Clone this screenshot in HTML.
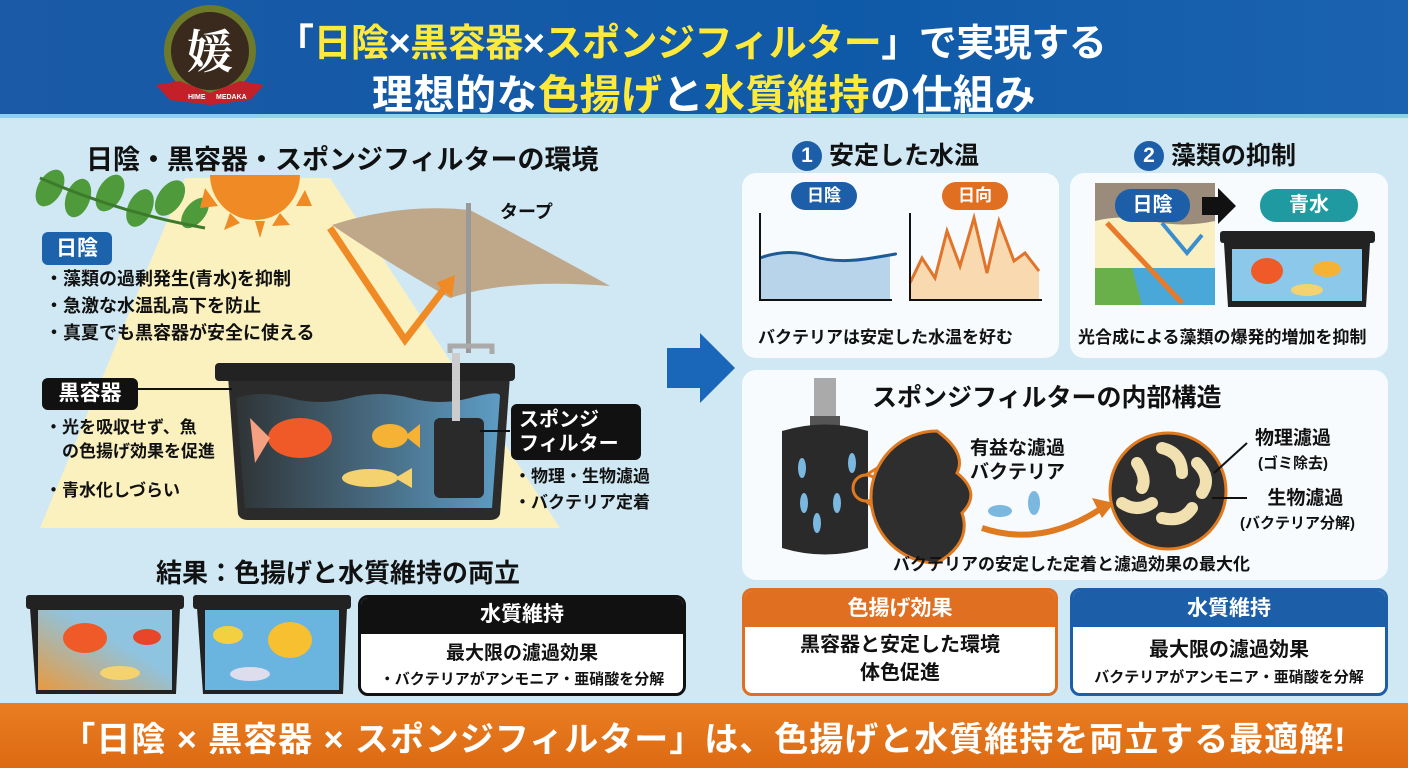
<!DOCTYPE html>
<html><head><meta charset="utf-8"><style>
*{margin:0;padding:0;box-sizing:border-box}
body{width:1408px;height:768px;overflow:hidden;position:relative;background:#cfe8f4;font-family:"Liberation Sans","Noto Sans CJK JP",sans-serif;font-weight:bold;color:#111}
.a{position:absolute;white-space:nowrap}
.card{position:absolute;background:#f7fbfd;border-radius:14px}
.y{color:#ffe93a}
</style></head><body>
<!-- header -->
<div class="a" style="left:0;top:0;width:1408px;height:118px;background:linear-gradient(90deg,#1a5aa6,#0f5aa8 60%,#1b63b0);border-bottom:4px solid #8fd0ee"></div>
<svg class="a" style="left:150px;top:3px" width="125" height="110">
<circle cx="60" cy="48" r="46" fill="#6d7a2a"/><circle cx="60" cy="48" r="39" fill="#3a2a1e"/>
<path d="M6 82 L30 78 L60 90 L90 78 L114 82 L100 97 L60 102 L20 97Z" fill="#c4202a"/>
<text x="60" y="65" fill="#fff" font-size="46" text-anchor="middle" font-family="Noto Serif CJK SC,serif">媛</text>
<text x="38" y="96" fill="#fff" font-size="7">HIME</text><text x="66" y="96" fill="#fff" font-size="7">MEDAKA</text>
</svg>
<div class="a" style="left:276px;top:12px;font-size:38px;color:#fff;letter-spacing:-0.5px">「<span class="y">日陰</span>×<span class="y">黒容器</span>×<span class="y">スポンジフィルター</span>」で実現する</div>
<div class="a" style="left:372px;top:61px;font-size:41px;color:#fff;letter-spacing:0.5px">理想的な<span class="y">色揚げ</span>と<span class="y">水質維持</span>の仕組み</div>

<!-- left graphics -->
<svg class="a" style="left:0;top:118px" width="704" height="585">
<polygon points="185,60 330,60 560,410 40,410" fill="#fbf1bf"/>
<g fill="#4f9a3a"><ellipse cx="50" cy="70" rx="12" ry="20" transform="rotate(30 50 70)"/><ellipse cx="78" cy="80" rx="12" ry="20" transform="rotate(20 78 80)"/><ellipse cx="110" cy="75" rx="12" ry="20" transform="rotate(30 110 75)"/><ellipse cx="140" cy="90" rx="12" ry="20" transform="rotate(25 140 90)"/><ellipse cx="170" cy="80" rx="12" ry="20" transform="rotate(35 170 80)"/><ellipse cx="195" cy="95" rx="10" ry="18" transform="rotate(40 195 95)"/></g>
<path d="M40 60 Q120 95 205 110" stroke="#3c7a2c" stroke-width="3" fill="none"/>
<path d="M210 57 A45 45 0 0 0 300 57Z" fill="#f08a24"/>
<g fill="#f08a24"><polygon points="205,70 218,88 200,90"/><polygon points="230,95 240,105 224,112"/><polygon points="255,103 265,103 260,120"/><polygon points="280,95 290,107 272,108"/><polygon points="305,72 312,88 296,88"/></g>
<path d="M332 107 Q400 85 470 92 Q560 140 610 168 Q510 160 450 180 Q380 140 332 107Z" fill="#bfa78a"/>
<rect x="466" y="85" width="5" height="150" fill="#999"/>
<path d="M450 235 V228 H492 V236" stroke="#aaa" stroke-width="5" fill="none"/>
<polyline points="330,110 405,222 445,170" stroke="#f08a24" stroke-width="7" fill="none"/>
<polygon points="436,165 455,157 452,180" fill="#f08a24"/>
<path d="M228 258 H510 L500 396 Q498 402 490 402 H248 Q240 402 238 396Z" fill="#2b2b2b"/>
<defs><linearGradient id="wg" x1="0" x2="1"><stop offset="0" stop-color="#2f3436"/><stop offset="1" stop-color="#5d9cc4"/></linearGradient>
<linearGradient id="og" x1="0" x2="1" y1="1" y2="0"><stop offset="0" stop-color="#e89a40"/><stop offset="0.6" stop-color="#8ec4e0"/></linearGradient></defs>
<path d="M236 280 Q260 272 290 280 T350 280 T410 280 T470 280 T500 278 L492 390 H245Z" fill="url(#wg)"/>
<rect x="215" y="245" width="300" height="18" rx="4" fill="#222"/>
<rect x="434" y="300" width="50" height="80" rx="6" fill="#2a2a2a"/>
<rect x="452" y="235" width="8" height="68" fill="#ccc"/>
<ellipse cx="300" cy="320" rx="32" ry="20" fill="#f05a28"/><polygon points="270,320 250,300 255,345" fill="#f5a080"/>
<ellipse cx="390" cy="318" rx="18" ry="12" fill="#f6b234"/><polygon points="405,318 420,306 420,330" fill="#f6b234"/>
<ellipse cx="370" cy="360" rx="28" ry="9" fill="#f5d270"/><polygon points="395,360 412,350 412,370" fill="#f5d270"/>
<line x1="138" y1="271" x2="232" y2="271" stroke="#111" stroke-width="2"/>
<line x1="480" y1="313" x2="510" y2="313" stroke="#111" stroke-width="2"/>
<rect x="26" y="477" width="158" height="14" rx="3" fill="#222"/>
<path d="M30 490 H180 L176 576 H36Z" fill="#222"/><rect x="38" y="492" width="134" height="80" fill="url(#og)"/>
<ellipse cx="85" cy="520" rx="22" ry="15" fill="#f05a28"/><ellipse cx="147" cy="519" rx="14" ry="8" fill="#e8462a"/><ellipse cx="120" cy="555" rx="20" ry="7" fill="#f5d270"/>
<rect x="193" y="477" width="158" height="14" rx="3" fill="#222"/>
<path d="M197 490 H347 L343 576 H203Z" fill="#222"/><rect x="205" y="492" width="134" height="80" fill="#6ab4e0"/>
<ellipse cx="228" cy="517" rx="15" ry="9" fill="#f3d040"/><ellipse cx="290" cy="522" rx="22" ry="18" fill="#f6c030"/><ellipse cx="250" cy="556" rx="20" ry="7" fill="#dde"/>
</svg>
<svg class="a" style="left:660px;top:330px" width="80" height="75"><polygon points="7,18 40,18 40,3 75,38 40,73 40,58 7,58" fill="#1a66b8"/></svg>
<div class="a" style="left:86px;top:138px;font-size:27px">日陰・黒容器・スポンジフィルターの環境</div>
<div class="a" style="left:500px;top:198px;font-size:18px">タープ</div>
<div class="a" style="left:42px;top:232px;width:70px;height:33px;background:#1d63ac;color:#fff;border-radius:6px;font-size:21px;text-align:center;line-height:33px">日陰</div>
<div class="a" style="left:45px;top:266px;font-size:18px;line-height:27px">・藻類の過剰発生(青水)を抑制<br>・急激な水温乱高下を防止<br>・真夏でも黒容器が安全に使える</div>
<div class="a" style="left:42px;top:378px;width:96px;height:32px;background:#111;color:#fff;border-radius:6px;font-size:21px;text-align:center;line-height:32px">黒容器</div>
<div class="a" style="left:45px;top:416px;font-size:17px;line-height:24px">・光を吸収せず、魚<br>　の色揚げ効果を促進</div>
<div class="a" style="left:45px;top:476px;font-size:17px">・青水化しづらい</div>
<div class="a" style="left:511px;top:404px;width:130px;height:56px;background:#111;color:#fff;border-radius:6px;font-size:20px;line-height:24px;padding:4px 8px">スポンジ<br>フィルター</div>
<div class="a" style="left:514px;top:464px;font-size:17px;line-height:26px">・物理・生物濾過<br>・バクテリア定着</div>
<div class="a" style="left:156px;top:553px;font-size:26px">結果：色揚げと水質維持の両立</div>
<div class="a" style="left:358px;top:595px;width:328px;height:101px;border:3px solid #111;border-radius:10px;background:#fff;overflow:hidden">
<div style="background:#111;color:#fff;height:36px;text-align:center;font-size:21px;line-height:34px">水質維持</div>
<div style="text-align:center;font-size:19px;margin-top:4px">最大限の濾過効果</div>
<div style="text-align:center;font-size:15px;margin-top:3px">・バクテリアがアンモニア・亜硝酸を分解</div></div>

<!-- right -->
<div class="a" style="left:792px;top:136px;font-size:25px"><span style="display:inline-block;width:30px;height:30px;border-radius:50%;background:#1d5ea8;color:#fff;text-align:center;line-height:30px;font-size:21px;vertical-align:2px">1</span> 安定した水温</div>
<div class="a" style="left:1134px;top:136px;font-size:25px"><span style="display:inline-block;width:30px;height:30px;border-radius:50%;background:#1d5ea8;color:#fff;text-align:center;line-height:30px;font-size:21px;vertical-align:2px">2</span> 藻類の抑制</div>
<div class="card" style="left:742px;top:173px;width:317px;height:185px"></div>
<div class="card" style="left:1070px;top:173px;width:318px;height:185px"></div>
<div class="card" style="left:742px;top:370px;width:646px;height:210px"></div>
<svg class="a" style="left:742px;top:173px" width="646" height="407">
<path d="M18 85 Q45 75 70 83 T130 85 T148 82 V127 H18Z" fill="#b7d4ea"/>
<path d="M18 85 Q45 75 70 83 T130 85 T148 82" stroke="#1d5a98" stroke-width="3" fill="none"/>
<polyline points="18,40 18,127 150,127" stroke="#111" stroke-width="2" fill="none"/>
<path d="M168 110 L180 85 L193 105 L205 58 L218 93 L232 45 L245 100 L257 48 L272 88 L283 80 L297 98 V127 H168Z" fill="#f8d9b0"/>
<polyline points="168,110 180,85 193,105 205,58 218,93 232,45 245,100 257,48 272,88 283,80 297,98" stroke="#e0742a" stroke-width="3" fill="none"/>
<polyline points="168,40 168,127 300,127" stroke="#111" stroke-width="2" fill="none"/>
<rect x="353" y="10" width="120" height="122" fill="#f9efc1"/>
<path d="M353 10 H473 V48 Q440 55 410 48 T353 48Z" fill="#9a8b7a"/>
<rect x="353" y="95" width="120" height="37" fill="#4aa8d8"/>
<path d="M353 95 H390 L400 132 H353Z" fill="#6ab04a"/>
<line x1="365" y1="50" x2="440" y2="130" stroke="#e87a2a" stroke-width="5"/>
<polyline points="420,50 445,80 460,62" stroke="#3a8ed0" stroke-width="4" fill="none"/>
<polygon points="460,24 476,24 476,15 494,33 476,51 476,42 460,42" fill="#111"/>
<rect x="478" y="58" width="155" height="12" rx="3" fill="#222"/>
<path d="M482 70 H628 L624 134 H486Z" fill="#222"/><rect x="490" y="76" width="130" height="52" fill="#8cc8ea"/>
<ellipse cx="525" cy="98" rx="16" ry="13" fill="#f05a28"/><ellipse cx="585" cy="96" rx="14" ry="8" fill="#f6b234"/><ellipse cx="565" cy="117" rx="16" ry="6" fill="#f5d270"/>
<!-- sponge -->
<rect x="72" y="205" width="22" height="45" fill="#aaa"/><rect x="68" y="243" width="30" height="15" fill="#555"/>
<path d="M40 258 Q83 245 126 258 V375 Q83 388 40 375Z" fill="#2a2a2a"/>
<ellipse cx="60" cy="295" rx="4" ry="10" fill="#7ab8e0"/><ellipse cx="95" cy="330" rx="4" ry="10" fill="#7ab8e0"/><ellipse cx="75" cy="350" rx="4" ry="10" fill="#7ab8e0"/><ellipse cx="110" cy="290" rx="4" ry="10" fill="#7ab8e0"/><ellipse cx="62" cy="330" rx="4" ry="10" fill="#7ab8e0"/>
<circle cx="124" cy="315" r="13" fill="none" stroke="#e07a20" stroke-width="3"/>
<line x1="124" y1="302" x2="195" y2="258" stroke="#e07a20" stroke-width="3"/><line x1="124" y1="328" x2="195" y2="390" stroke="#e07a20" stroke-width="3"/>
<path d="M195 258 A65 65 0 0 0 195 390 Q230 370 220 340 Q240 320 215 300 Q225 280 195 258Z" fill="#2e2e2e" stroke="#e07a20" stroke-width="3"/>
<ellipse cx="258" cy="338" rx="12" ry="6" fill="#7ab8e0"/><ellipse cx="292" cy="330" rx="6" ry="12" fill="#7ab8e0"/>
<path d="M240 355 Q300 375 360 335" stroke="#e07a20" stroke-width="6" fill="none"/><polygon points="350,325 372,330 360,345" fill="#e07a20"/>
<circle cx="426" cy="318" r="58" fill="#2e2e2e" stroke="#e07a20" stroke-width="3"/>
<g stroke="#f1e0b0" stroke-width="12" stroke-linecap="round" fill="none"><path d="M395 290 Q405 305 400 315"/><path d="M420 275 Q440 280 440 300"/><path d="M380 330 Q395 340 410 330"/><path d="M420 345 Q440 350 450 335"/><path d="M455 290 Q470 305 460 320"/></g>
<line x1="472" y1="300" x2="505" y2="270" stroke="#111" stroke-width="2"/><line x1="470" y1="325" x2="505" y2="325" stroke="#111" stroke-width="2"/>
</svg>
<div class="a" style="left:791px;top:182px;width:66px;height:28px;background:#1d5ea8;color:#fff;border-radius:14px;font-size:17px;text-align:center;line-height:28px">日陰</div>
<div class="a" style="left:942px;top:182px;width:66px;height:28px;background:#e06f22;color:#fff;border-radius:14px;font-size:17px;text-align:center;line-height:28px">日向</div>
<div class="a" style="left:758px;top:323px;font-size:17px">バクテリアは安定した水温を好む</div>
<div class="a" style="left:1115px;top:189px;width:75px;height:33px;background:#1d5ea8;color:#fff;border-radius:16px;font-size:20px;text-align:center;line-height:33px">日陰</div>
<div class="a" style="left:1260px;top:189px;width:98px;height:33px;background:#1e9aa0;color:#fff;border-radius:16px;font-size:20px;text-align:center;line-height:33px">青水</div>
<div class="a" style="left:1078px;top:323px;font-size:17px">光合成による藻類の爆発的増加を抑制</div>
<div class="a" style="left:872px;top:378px;font-size:25px">スポンジフィルターの内部構造</div>
<div class="a" style="left:970px;top:437px;font-size:19px;line-height:24px;text-align:center">有益な濾過<br>バクテリア</div>
<div class="a" style="left:1255px;top:427px;font-size:19px;line-height:24px;text-align:center">物理濾過<br><span style="font-size:15px">(ゴミ除去)</span></div>
<div class="a" style="left:1240px;top:487px;font-size:19px;line-height:24px;text-align:center">&nbsp;&nbsp;&nbsp;生物濾過<br><span style="font-size:15px">(バクテリア分解)</span></div>
<div class="a" style="left:893px;top:550px;font-size:17px">バクテリアの安定した定着と濾過効果の最大化</div>
<div class="a" style="left:742px;top:588px;width:316px;height:108px;border:3px solid #e06f22;border-radius:10px;background:#fff;overflow:hidden;text-align:center">
<div style="background:#e06f22;color:#fff;height:36px;font-size:21px;line-height:36px">色揚げ効果</div>
<div style="font-size:20px;line-height:28px;margin-top:4px">黒容器と安定した環境<br>体色促進</div></div>
<div class="a" style="left:1070px;top:588px;width:318px;height:108px;border:3px solid #1d5ea8;border-radius:10px;background:#fff;overflow:hidden;text-align:center">
<div style="background:#1d5ea8;color:#fff;height:36px;font-size:21px;line-height:36px">水質維持</div>
<div style="font-size:20px;margin-top:6px">最大限の濾過効果</div>
<div style="font-size:15px;margin-top:4px">バクテリアがアンモニア・亜硝酸を分解</div></div>

<!-- footer -->
<div class="a" style="left:0;top:703px;width:1408px;height:65px;background:linear-gradient(#ea7d22,#dc6a12)"></div>
<div class="a" style="left:0;top:712px;width:1408px;text-align:center;font-size:34px;color:#fff;letter-spacing:1px">「日陰 × 黒容器 × スポンジフィルター」は、色揚げと水質維持を両立する最適解!</div>
</body></html>
